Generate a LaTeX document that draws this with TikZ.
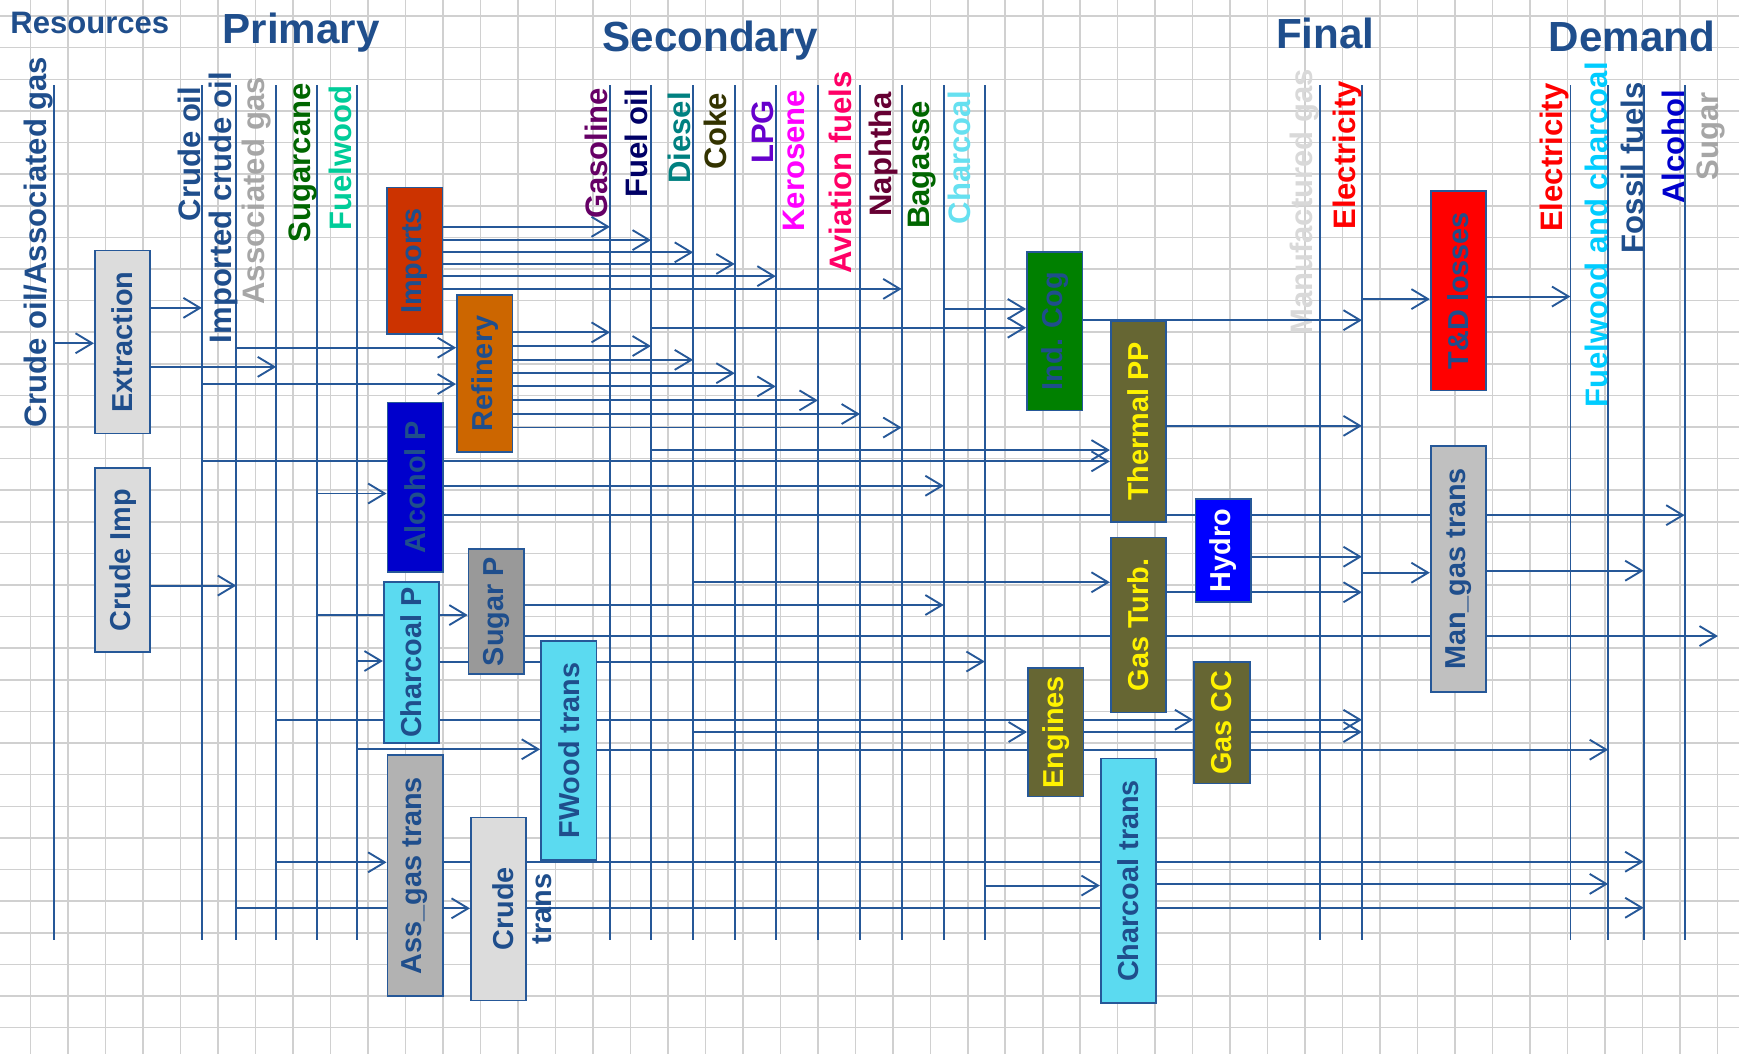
\documentclass[tikz,border=0pt]{standalone}
\usepackage{fontspec}
\setmainfont{Liberation Sans}
\usepackage{tikz}
\usetikzlibrary{arrows.meta, backgrounds}

\definecolor{flowblue}{RGB}{38,88,152}
\definecolor{headblue}{RGB}{31,78,140}
\definecolor{gridgray}{RGB}{208,208,208}
\definecolor{boxlight}{RGB}{220,220,220}
\definecolor{boxsilver}{RGB}{192,192,192}
\definecolor{boxgray}{RGB}{153,153,153}
\definecolor{boxmid}{RGB}{178,178,178}
\definecolor{boxcyan}{RGB}{91,218,240}
\definecolor{boxolive}{RGB}{102,102,51}
\definecolor{boxrust}{RGB}{204,51,0}
\definecolor{boxorange}{RGB}{204,102,0}
\definecolor{boxgreen}{RGB}{0,128,0}
\definecolor{boxnavy}{RGB}{0,0,204}
\definecolor{boxblue}{RGB}{0,0,255}
\definecolor{boxred}{RGB}{255,0,0}
\definecolor{labgray}{RGB}{166,166,166}
\definecolor{labpale}{RGB}{217,217,217}
\definecolor{labgreen}{RGB}{0,102,0}
\definecolor{labmint}{RGB}{0,204,153}
\definecolor{labpurple}{RGB}{102,0,102}
\definecolor{labnavy}{RGB}{0,0,102}
\definecolor{labteal}{RGB}{0,128,128}
\definecolor{labolive}{RGB}{51,51,0}
\definecolor{labviolet}{RGB}{102,0,204}
\definecolor{labmagenta}{RGB}{255,0,255}
\definecolor{labrose}{RGB}{255,0,102}
\definecolor{labmaroon}{RGB}{102,0,51}
\definecolor{labcyan}{RGB}{102,224,240}
\definecolor{labsky}{RGB}{0,204,255}
\definecolor{labred}{RGB}{255,0,0}
\definecolor{labblue}{RGB}{0,0,204}

\begin{document}
\begin{tikzpicture}[x=1pt, y=-1pt,
  gridline/.style={gridgray, line width=1.4pt},
  col/.style={flowblue, line width=1.7pt},
  flow/.style={flowblue, line width=1.7pt, -{Straight Barb[length=15pt, width=18pt]}},
  proc/.style={draw=flowblue, line width=1.5pt, inner sep=0pt, minimum width=50pt,
    text=headblue, font=\fontsize{26}{28}\selectfont\bfseries},
  hot/.style={proc, fill=boxolive, text=yellow},
  head/.style={anchor=base, text=headblue, font=\fontsize{38}{40}\selectfont\bfseries},
  flab/.style={rotate=90, anchor=south east, inner sep=0pt, font=\fontsize{28}{30}\selectfont\bfseries},
  tlab/.style={rotate=90, anchor=base, inner sep=0pt, text=headblue, font=\fontsize{26}{28}\selectfont\bfseries}]
  \useasboundingbox (0,0) rectangle (1568,950);

  \node[head, font=\fontsize{28}{30}\selectfont\bfseries] (resources) at (81,30.5) {Resources};
  \node[head] (primary) at (271.5,39.5) {Primary};
  \node[head] (secondary) at (640.5,46.5) {Secondary};
  \node[head] (final) at (1195,44) {Final};
  \node[head] (demand) at (1471.5,46) {Demand};

  \node[proc, fill=boxlight, minimum height=165pt] (extr) at (110.5,308.5) {\rotatebox{90}{Extraction}};
  \node[proc, fill=boxlight, minimum height=166pt] (crudeimp) at (110.5,505) {\rotatebox{90}{Crude Imp}};
  \node[proc, fill=boxrust, minimum height=132.5pt] (imports) at (374,235.2) {\rotatebox{90}{Imports}};
  \node[proc, fill=boxorange, minimum height=142pt] (refinery) at (437,336.7) {\rotatebox{90}{Refinery}};
  \node[proc, fill=boxnavy, minimum height=153pt] (alcoholp) at (374.3,439.5) {\rotatebox{90}{Alcohol P}};
  \node[proc, fill=boxcyan, minimum height=145pt] (charcoalp) at (371,597.5) {\rotatebox{90}{Charcoal P}};
  \node[proc, fill=boxgray, minimum height=113pt] (sugarp) at (447.5,551.5) {\rotatebox{90}{Sugar P}};
  \node[proc, fill=boxcyan, minimum height=197.5pt] (fwoodtrans) at (512.8,676.8) {\rotatebox{90}{FWood trans}};
  \node[proc, fill=boxmid, minimum height=217pt] (assgas) at (374.3,789.5) {\rotatebox{90}{Ass\_gas trans}};
  \node[proc, fill=boxlight, minimum height=165pt] (crudetrans) at (449.5,819.5) {};
  \node[tlab] (crudetxt) at (463,819.5) {Crude};
  \node[tlab] (transtxt) at (497.4,819.5) {trans};
  \node[proc, fill=boxgreen, minimum height=143pt] (indcog) at (951,298.5) {\rotatebox{90}{Ind. Cog}};
  \node[hot, minimum height=181pt] (thermal) at (1026.5,380) {\rotatebox{90}{Thermal PP}};
  \node[hot, minimum height=158pt] (gasturb) at (1026.5,563.5) {\rotatebox{90}{Gas Turb.}};
  \node[proc, fill=boxblue, text=white, minimum height=93pt] (hydro) at (1103,496.5) {\rotatebox{90}{Hydro}};
  \node[hot, minimum height=115.5pt] (engines) at (951.8,660.3) {\rotatebox{90}{Engines}};
  \node[hot, minimum height=109.7pt] (gascc) at (1101.8,651.5) {\rotatebox{90}{Gas CC}};
  \node[proc, fill=boxcyan, minimum height=220.5pt] (charcoaltrans) at (1017.5,794.3) {\rotatebox{90}{Charcoal trans}};
  \node[proc, fill=boxred, minimum height=180pt] (tdlosses) at (1315,262) {\rotatebox{90}{T\&D losses}};
  \node[proc, fill=boxsilver, minimum height=222pt] (mangas) at (1315,513) {\rotatebox{90}{Man\_gas trans}};

  \begin{scope}[on background layer]
    \foreach \i in {0,...,45}
      \draw[gridline] ({27.6+33.8*\i},0) -- ({27.6+33.8*\i},950);
    \foreach \j in {0,...,32}
      \draw[gridline] (0,{14.5+28.5*\j}) -- (1568,{14.5+28.5*\j});

    \foreach \nm/\px/\rx/\ty/\clr/\txt in {
        c1/48.5/48.5/51/headblue/{Crude oil/Associated gas},
        crude/182/181.5/78/headblue/{Crude oil},
        imported/213/215/65/headblue/{Imported crude oil},
        assoc/249/245/69/labgray/{Associated gas},
        sugarcane/286/286/75/labgreen/{Sugarcane},
        fuelwood/322/317/77/labmint/{Fuelwood},
        gasoline/550/548/79/labpurple/{Gasoline},
        fueloil/587/584/80/labnavy/{Fuel oil},
        diesel/625/623.5/83/labteal/{Diesel},
        coke/662.5/655.5/84/labolive/{Coke},
        lpg/699.5/698/90/labviolet/{LPG},
        kerosene/737.5/725.5/81/labmagenta/{Kerosene},
        aviation/775.5/768.5/64/labrose/{Aviation fuels},
        naphtha/813/810/83/labmaroon/{Naphtha},
        bagasse/851/844.5/91/labgreen/{Bagasse},
        charcoal/888/875.5/82/labcyan/{Charcoal},
        manugas/1190/1190/62/labpale/{Manufactured gas},
        elec/1228/1228/73/labred/{Electricity},
        delec/1416/1415/75/labred/{Electricity},
        fwchar/1450/1450/56/labsky/{Fuelwood and charcoal},
        fossil/1482/1482/74/headblue/{Fossil fuels},
        alcohol/1519/1519/81/labblue/{Alcohol}} {
      \coordinate (\nm) at (\px,77);
      \draw[col] (\nm) -- (\nm |- 0,848);
      \node[flab, text=\clr] (lab\nm) at (\rx,\ty) {\txt};
    }
    \coordinate (sugar) at (1549,77);
    \node[flab, text=labgray] (labsugar) at (1556,83) {Sugar};

    \foreach \src/\dst/\y in {
        c1/extr.west/309.5, extr.east/crude/277.6, extr.east/assoc/330.8,
        crudeimp.east/imported/528, imported/refinery.west/313.5, crude/refinery.west/346.3,
        imports.east/gasoline/204.5, imports.east/fueloil/216.5, imports.east/diesel/227.5,
        imports.east/coke/238, imports.east/lpg/249, imports.east/naphtha/260.5,
        refinery.east/gasoline/299.7, refinery.east/fueloil/312, refinery.east/diesel/324.5,
        refinery.east/coke/336.5, refinery.east/lpg/348.4, refinery.east/kerosene/361,
        refinery.east/aviation/373.3, refinery.east/naphtha/385.5,
        bagasse/indcog.west/278.6, fueloil/indcog.west/295.5, indcog.east/elec/288.7,
        fueloil/thermal.west/405.8, crude/thermal.west/416, thermal.east/elec/384,
        elec/tdlosses.west/269.7, tdlosses.east/delec/267.4,
        sugarcane/alcoholp.west/445, alcoholp.east/bagasse/438, alcoholp.east/alcohol/464.5,
        sugarcane/sugarp.west/554.6, sugarp.east/bagasse/545.5, sugarp.east/sugar/573.5,
        fuelwood/charcoalp.west/596, charcoalp.east/charcoal/596.5,
        diesel/gasturb.west/525, gasturb.east/elec/534, hydro.east/elec/502,
        elec/mangas.west/516.4, mangas.east/fossil/514.6,
        assoc/gascc.west/649, gascc.east/elec/649,
        diesel/engines.west/660, engines.east/elec/660,
        fuelwood/fwoodtrans.west/675.6, fwoodtrans.east/fwchar/676,
        assoc/assgas.west/777.5, assgas.east/fossil/777,
        imported/crudetrans.west/819, crudetrans.east/fossil/818.5,
        charcoal/charcoaltrans.west/798.5, charcoaltrans.east/fwchar/797}
      \draw[flow] (\src |- 0,\y) -- (\dst |- 0,\y);
  \end{scope}
\end{tikzpicture}
\end{document}
